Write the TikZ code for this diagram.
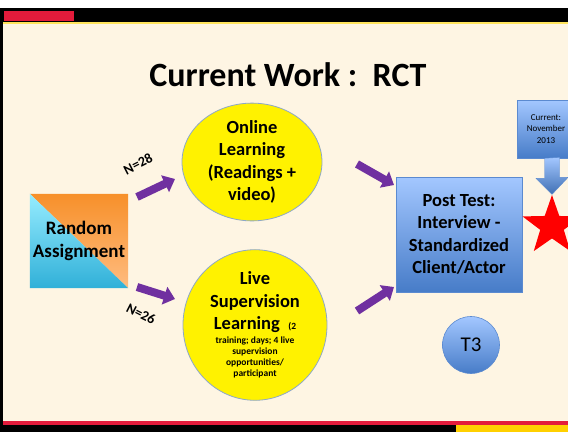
\documentclass[tikz,border=0pt]{standalone}
\usepackage{fontspec}
\setmainfont{Carlito}
\usetikzlibrary{shapes.geometric, arrows.meta, positioning}

\definecolor{cream}{HTML}{FEF5E3}
\definecolor{slidered}{HTML}{E31B3B}
\definecolor{bandyellow}{HTML}{FFE45C}
\definecolor{cornergold}{HTML}{FFD000}
\definecolor{arrowpurple}{HTML}{7030A0}
\definecolor{boxtop}{HTML}{A3C7FF}
\definecolor{boxbot}{HTML}{477CC8}
\definecolor{boxedge}{HTML}{5B8AD0}
\definecolor{ovaledge}{HTML}{8DA8C8}
\definecolor{orangetop}{HTML}{F7902A}
\definecolor{orangebot}{HTML}{FFBC80}
\definecolor{cyantop}{HTML}{96ECFF}
\definecolor{cyanbot}{HTML}{30B0D8}

\tikzset{
  oval/.style={ellipse, draw=ovaledge, fill=yellow, line width=0.8pt, inner sep=0pt, align=center,
    font=\bfseries\fontsize{18.5}{22.5}\selectfont},
  bluebox/.style={draw=boxedge, line width=0.6pt, top color=boxtop, bottom color=boxbot, align=center, inner sep=0pt},
  fatarrow/.style={arrowpurple, line width=8pt, -{Triangle[width=18pt,length=11pt]}},
  nlabel/.style={font=\bfseries\fontsize{14}{16}\selectfont}
}
\newcommand{\smalltxt}{\fontsize{9.5}{10}\selectfont}

\begin{document}
\begin{tikzpicture}[x=1pt, y=-1pt]
  \useasboundingbox (0,0) rectangle (568,432);
  \clip (0,0) rectangle (568,432);

  \fill[white] (0,0) rectangle (568,432);
  \fill[cream] (2,22) rectangle (568,422);
  \fill[black] (0,8) rectangle (568,21.5);
  \fill[slidered] (4,11) rectangle (74,21);
  \fill[bandyellow] (3,21.5) rectangle (568,23.5);
  \fill[black] (0,8) rectangle (3,432);
  \fill[slidered] (3,421) rectangle (568,425);
  \fill[black] (0,425) rectangle (568,432);
  \fill[cornergold] (456,425) rectangle (568,432);

  \node[font=\bfseries\fontsize{34}{40}\selectfont] (title) at (288,75) {Current Work :\ \ RCT};

  \node[minimum width=98pt, minimum height=94pt, inner sep=0pt] (ra) at (79,241) {};
  \shade[top color=orangetop, bottom color=orangebot] (ra.north west) -- (ra.north east) -- (ra.south east) -- cycle;
  \shade[top color=cyantop, bottom color=cyanbot] (ra.north west) -- (ra.south west) -- (ra.south east) -- cycle;
  \node[align=center, font=\bfseries\fontsize{19}{22.5}\selectfont] (ratext) at (ra) {Random\\Assignment};

  \node[oval, minimum width=140pt, minimum height=105pt] (online) at (252,162) {Online\\Learning\\(Readings +\\video)};
  \node[oval, minimum width=144pt, minimum height=118pt] (live) at (255,325)
    {Live\\Supervision\\Learning\ \ {\smalltxt(2}\\[-8.5pt]
     {\smalltxt training; days; 4 live}\\[-11.5pt]
     {\smalltxt supervision}\\[-11.5pt]
     {\smalltxt opportunities/}\\[-11.5pt]
     {\smalltxt participant}};

  \node[bluebox, minimum width=126pt, minimum height=115pt, font=\bfseries\fontsize{18.5}{22.5}\selectfont] (post) at (459,234.5)
    {Post Test:\\Interview -\\Standardized\\Client/Actor};

  \node[bluebox, minimum width=58pt, minimum height=58pt, font=\fontsize{9}{11.5}\selectfont] (cur) at (546,129) {Current:\\November\\2013};
  \node[star, star points=5, star point ratio=2.5, minimum size=62pt, inner sep=0pt, fill=red] (goal) at (552,226) {};
  \coordinate (dtop) at (cur.south -| goal.north);
  \shade[top color=boxtop, bottom color=boxbot!90!black, draw=boxedge, line width=0.4pt]
    (dtop) ++(-7.5,0) -- ++(0,20) -- ++(-8.5,0) -- (goal.north) -- ++(16,-17) -- ++(-8.5,0) -- ++(0,-20) -- cycle;

  \node[circle, bluebox, minimum size=57pt, font=\fontsize{21}{24}\selectfont] (tthree) at (471,345) {T3};

  \coordinate (a1) at (137,197);
  \coordinate (b1) at (175,179);
  \coordinate (a2) at (137,287);
  \coordinate (b2) at (175,299);
  \coordinate (a3) at (357,164);
  \coordinate (b3) at (394,185);
  \coordinate (a4) at (357,311);
  \coordinate (b4) at (394,287);
  \draw[fatarrow] (a1) -- (b1);
  \draw[fatarrow] (a2) -- (b2);
  \draw[fatarrow] (a3) -- (b3);
  \draw[fatarrow] (a4) -- (b4);

  \node[nlabel, rotate=27] (ntop) at (138,164) {N=28};
  \node[nlabel, rotate=-27] (nbot) at (141,314) {N=26};
\end{tikzpicture}
\end{document}
